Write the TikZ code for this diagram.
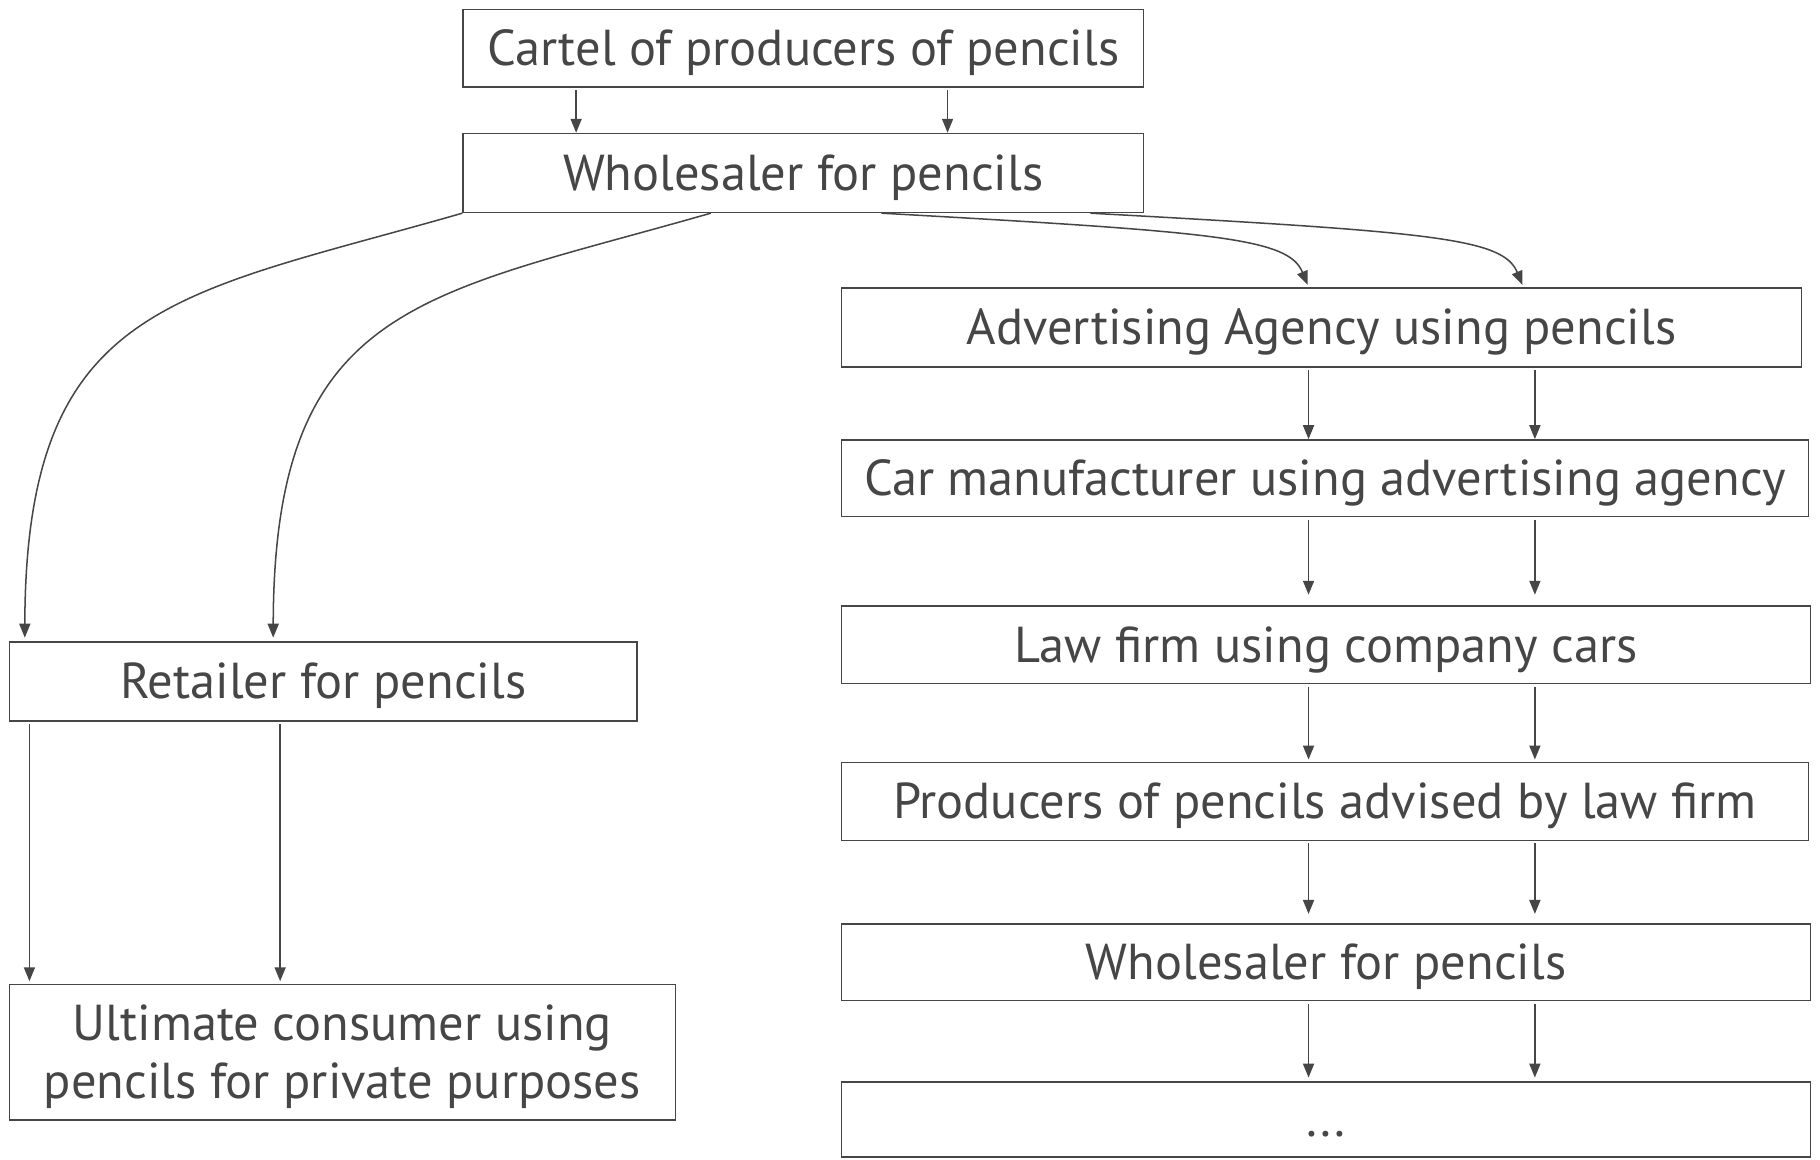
\documentclass[tikz,border=0pt]{standalone}
\usepackage{fontspec}
\setmainfont{PT Sans}
\usetikzlibrary{arrows.meta}
\definecolor{ink}{HTML}{464646}
\begin{document}
\begin{tikzpicture}[x=1pt,y=-1pt,
  box/.style={draw=ink,line width=1.3pt,text=ink,rectangle,inner sep=0pt,
    font=\fontsize{43.5}{50}\selectfont,align=center},
  one/.style={text height=34pt,text depth=4pt},
  arr/.style={draw=ink,line width=1.3pt,-{Triangle[length=12pt,width=9.5pt]},shorten <=2pt}]
\useasboundingbox (0,0) rectangle (1568,999);
\fill[white] (0,0) rectangle (1568,999);
% nodes
\node[box,one,minimum width=586pt,minimum height=67pt] (cartel) at (692,41.5) {Cartel of producers of pencils};
\node[box,one,minimum width=586pt,minimum height=68pt] (whole1) at (692,149) {Wholesaler for pencils};
\node[box,one,minimum width=541pt,minimum height=68pt] (retail) at (278.5,587) {Retailer for pencils};
\node[box,minimum width=574pt,minimum height=117pt] (ult) at (295,906.5) {};
\node[text=ink,inner sep=0pt,font=\fontsize{43.5}{50}\selectfont,align=center] (ulttext) at (295,910) {Ultimate consumer using\\pencils for private purposes};
\node[box,one,minimum width=827pt,minimum height=68pt] (adv) at (1138.5,282) {Advertising Agency using pencils};
\node[box,one,minimum width=833pt,minimum height=66pt] (car) at (1141.5,412) {Car manufacturer using advertising agency};
\node[box,one,minimum width=835pt,minimum height=67pt] (law) at (1142.5,555.5) {Law firm using company cars};
\node[box,one,minimum width=833pt,minimum height=67pt] (prod) at (1141.5,690.5) {Producers of pencils advised by law firm};
\node[box,one,minimum width=835pt,minimum height=66pt] (whole2) at (1142.5,829) {Wholesaler for pencils};
\node[box,one,minimum width=835pt,minimum height=65pt] (dots) at (1142.5,964.5) {...};
% cartel -> wholesaler
\draw[arr] ([xshift=98pt]cartel.south west) -- ([xshift=98pt]whole1.north west);
\draw[arr] ([xshift=418pt]cartel.south west) -- ([xshift=418pt]whole1.north west);
% wholesaler -> retailer (curves)
\draw[arr,shorten <=0pt,shorten >=3pt] (whole1.south west) .. controls (150,255) and (22,260) .. ([xshift=14pt]retail.north west);
\draw[arr,shorten <=0pt,shorten >=3pt] ([xshift=214pt]whole1.south west) .. controls (364,255) and (236,260) .. ([xshift=228pt]retail.north west);
% wholesaler -> advertising (curves)
\draw[arr,shorten <=0pt,shorten >=2pt] ([xshift=361pt]whole1.south west) .. controls (1050,200) and (1110,205) .. ([xshift=403pt]adv.north west);
\draw[arr,shorten <=0pt,shorten >=2pt] ([xshift=541pt]whole1.south west) .. controls (1235,200) and (1295,205) .. ([xshift=588pt]adv.north west);
% retailer -> ultimate
\draw[arr,shorten >=2pt] ([xshift=18pt]retail.south west) -- ([xshift=18pt]ult.north west);
\draw[arr,shorten >=2pt] ([xshift=234pt]retail.south west) -- ([xshift=234pt]ult.north west);
% right chain
\draw[arr] ([xshift=403pt]adv.south west) -- ([xshift=403pt]car.north west);
\draw[arr] ([xshift=598pt]adv.south west) -- ([xshift=598pt]car.north west);
\draw[arr,shorten >=9pt] ([xshift=403pt]car.south west) -- ([xshift=403pt]law.north west);
\draw[arr,shorten >=9pt] ([xshift=598pt]car.south west) -- ([xshift=598pt]law.north west);
\draw[arr,shorten >=2pt] ([xshift=403pt]law.south west) -- ([xshift=403pt]prod.north west);
\draw[arr,shorten >=2pt] ([xshift=598pt]law.south west) -- ([xshift=598pt]prod.north west);
\draw[arr,shorten >=8pt] ([xshift=403pt]prod.south west) -- ([xshift=403pt]whole2.north west);
\draw[arr,shorten >=8pt] ([xshift=598pt]prod.south west) -- ([xshift=598pt]whole2.north west);
\draw[arr,shorten >=3pt] ([xshift=403pt]whole2.south west) -- ([xshift=403pt]dots.north west);
\draw[arr,shorten >=3pt] ([xshift=598pt]whole2.south west) -- ([xshift=598pt]dots.north west);
\end{tikzpicture}
\end{document}
